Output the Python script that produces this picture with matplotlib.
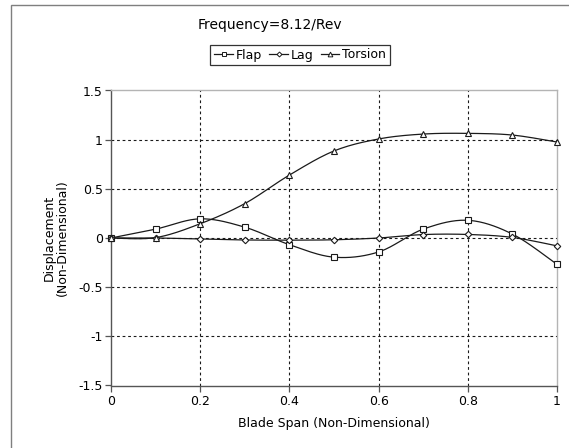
import matplotlib
matplotlib.use('Agg')
import matplotlib.pyplot as plt
import numpy as np
from matplotlib.patches import Rectangle

# Data =================================================================================================
span = [0.0, 0.1, 0.2, 0.3, 0.4, 0.5, 0.6, 0.7, 0.8, 0.9, 1.0]
flap = [0.0, 0.09, 0.195, 0.11, -0.068, -0.195, -0.142, 0.09, 0.18, 0.04, -0.268]
lag = [0.0, 0.0, -0.01, -0.02, -0.022, -0.018, 0.0, 0.035, 0.036, 0.006, -0.08]
torsion = [0.0, 0.004, 0.145, 0.35, 0.64, 0.885, 1.007, 1.057, 1.064, 1.047, 0.976]
series_names = ['Flap', 'Lag', 'Torsion']
title = 'Frequency=8.12/Rev'
xlabel = 'Blade Span (Non-Dimensional)'
ylabel = 'Displacement\n(Non-Dimensional)'
#======================================================================================================


def smooth(x, y, n=20):
    # Excel style smoothed line (Catmull-Rom bezier through the points)
    x = np.asarray(x, float)
    y = np.asarray(y, float)
    px = np.concatenate([[x[0]], x, [x[-1]]])
    py = np.concatenate([[y[0]], y, [y[-1]]])
    t = np.linspace(0, 1, n)[:, None]
    xs, ys = [], []
    for i in range(1, len(px) - 2):
        p0 = np.array([px[i], py[i]])
        p3 = np.array([px[i + 1], py[i + 1]])
        p1 = p0 + (p3 - np.array([px[i - 1], py[i - 1]])) / 6.0
        p2 = p3 - (np.array([px[i + 2], py[i + 2]]) - p0) / 6.0
        b = (1 - t) ** 3 * p0 + 3 * (1 - t) ** 2 * t * p1 + 3 * (1 - t) * t ** 2 * p2 + t ** 3 * p3
        xs.append(b[:, 0])
        ys.append(b[:, 1])
    return np.concatenate(xs), np.concatenate(ys)


plt.rcParams['font.family'] = ['DejaVu Sans']

DPI = 100
fig = plt.figure(figsize=(569 / DPI, 448 / DPI), dpi=DPI)
fig.patch.set_facecolor('white')
ax = fig.add_axes([111 / 569, 1 - 385.5 / 448, 446 / 569, 295 / 448])

# chart area border (cropped on the right and bottom)
fig.patches.append(Rectangle((11 / 569, -0.2), 1.5, 1.2 - 5 / 448, transform=fig.transFigure,
                             fill=False, edgecolor='#7f7f7f', linewidth=1.0))

markers = ['s', 'D', '^']
msizes = [3.8, 3.3, 4.2]
handles = []
for vals, name, mk, ms in zip([flap, lag, torsion], series_names, markers, msizes):
    sx, sy = smooth(span, vals)
    ax.plot(sx, sy, color='#1a1a1a', linewidth=0.9, zorder=3)
    ax.plot(span, vals, linestyle='none', marker=mk, markersize=ms, markerfacecolor='white',
            markeredgecolor='#1a1a1a', markeredgewidth=0.8, zorder=4, clip_on=False)
    h, = ax.plot([], [], color='#1a1a1a', linewidth=0.9, marker=mk, markersize=ms - 0.8,
                 markerfacecolor='white', markeredgecolor='#1a1a1a', markeredgewidth=0.7)
    handles.append(h)

ax.set_xlim(0, 1)
ax.set_ylim(-1.5, 1.5)
ax.set_xticks(np.arange(0, 1.01, 0.2))
ax.set_xticklabels(['0', '0.2', '0.4', '0.6', '0.8', '1'])
ax.set_yticks(np.arange(-1.5, 1.51, 0.5))
ax.set_yticklabels(['-1.5', '-1', '-0.5', '0', '0.5', '1', '1.5'])
ax.grid(True, color='#1a1a1a', linestyle=(0, (2.5, 2.5)), linewidth=0.8)
# the edge gridlines sit under the plot area border
for gl in [ax.xaxis.get_gridlines()[0], ax.xaxis.get_gridlines()[-1],
           ax.yaxis.get_gridlines()[0], ax.yaxis.get_gridlines()[-1]]:
    gl.set_visible(False)
ax.tick_params(direction='out', length=4, width=0.9, colors='#555555', labelcolor='black',
               labelsize=9)
ax.tick_params(axis='x', pad=3)
ax.tick_params(axis='y', pad=2)

for side in ['top', 'right']:
    ax.spines[side].set_color('#b4b4b4')
    ax.spines[side].set_linewidth(1.0)
for side in ['left', 'bottom']:
    ax.spines[side].set_color('#555555')
    ax.spines[side].set_linewidth(1.0)

ax.set_xlabel(xlabel, fontsize=9, labelpad=6)
ax.set_ylabel(ylabel, fontsize=9, labelpad=7, linespacing=1.0)

fig.text(270 / 569, 1 - 25 / 448, title, ha='center', va='center', fontsize=10)

leg = fig.legend(handles, series_names, loc='center', bbox_to_anchor=(300 / 569, 1 - 55 / 448),
                 ncol=3, fontsize=9, frameon=True, fancybox=False, handlelength=1.5,
                 handletextpad=0.2, columnspacing=0.6, borderpad=0.3, borderaxespad=0)
leg.get_frame().set_edgecolor('black')
leg.get_frame().set_linewidth(0.9)

plt.savefig('out.png', dpi=DPI)
